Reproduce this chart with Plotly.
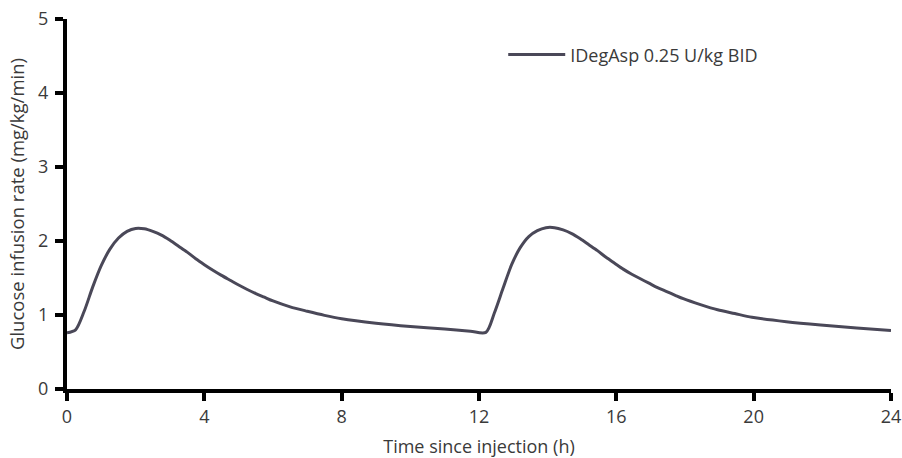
import plotly.graph_objects as go

time_h = [0.0, 0.25, 0.5, 0.75, 1.0, 1.25, 1.5, 1.75, 2.0, 2.25, 2.5, 2.75, 3.0, 3.25,
          3.5, 3.75, 4.0, 4.25, 4.5, 4.75, 5.0, 5.25, 5.5, 5.75, 6.0, 6.5, 7.0, 7.5, 8.0,
          9.0, 10.0, 11.0, 11.75, 12.2, 12.45, 12.7, 12.95, 13.2, 13.45, 13.7, 13.95, 14.2,
          14.45, 14.7, 14.95, 15.2, 15.45, 15.7, 15.95, 16.2, 16.45, 16.7, 16.95, 17.2,
          17.45, 17.7, 17.95, 18.45, 18.95, 19.45, 19.95, 20.95, 21.95, 23.0, 24.0]
gir = [0.76, 0.80, 1.05, 1.38, 1.67, 1.89, 2.04, 2.13, 2.17, 2.165, 2.13, 2.08, 2.01, 1.93,
       1.85, 1.76, 1.68, 1.605, 1.535, 1.47, 1.405, 1.345, 1.29, 1.24, 1.19, 1.11, 1.05, 0.995, 0.95,
       0.89, 0.845, 0.81, 0.78, 0.765, 1.03, 1.36, 1.68, 1.91, 2.06, 2.14, 2.18, 2.18,
       2.15, 2.10, 2.03, 1.95, 1.87, 1.78, 1.70, 1.62, 1.55, 1.49, 1.43, 1.37,
       1.32, 1.27, 1.22, 1.14, 1.07, 1.02, 0.97, 0.91, 0.865, 0.825, 0.79]
series_name = "IDegAsp 0.25 U/kg BID"
x_ticks = [0, 4, 8, 12, 16, 20, 24]
y_ticks = [0, 1, 2, 3, 4, 5]

fig = go.Figure()
fig.add_trace(go.Scatter(
    x=time_h, y=gir, mode="lines", name=series_name,
    line=dict(color="#4a4858", width=3, shape="spline", smoothing=0.8),
))

font_family = "Open Sans, Noto Sans, sans-serif"
txt = "#3a3a3a"
fig.update_layout(
    width=902, height=458,
    margin=dict(l=67, r=11, t=19, b=69),
    paper_bgcolor="white", plot_bgcolor="white",
    font=dict(family=font_family, size=18, color=txt),
    showlegend=True,
    legend=dict(x=0.5294, y=0.903, xanchor="left", yanchor="middle",
                bgcolor="rgba(0,0,0,0)", font=dict(size=18, color=txt),
                itemwidth=57),
    xaxis=dict(
        range=[0, 24], tickvals=x_ticks, ticktext=[str(v) for v in x_ticks],
        showline=True, linecolor="black", linewidth=4,
        ticks="outside", ticklen=8, tickwidth=4, tickcolor="black",
        showgrid=False, zeroline=False, automargin=False, ticklabeloverflow="allow",
        title=dict(text="Time since injection (h)", font=dict(size=18, color=txt), standoff=16),
        tickfont=dict(size=18, color=txt),
    ),
    yaxis=dict(
        range=[0, 5], tickvals=y_ticks, ticktext=[str(v) for v in y_ticks],
        showline=True, linecolor="black", linewidth=4,
        ticks="outside", ticklen=8, tickwidth=4, tickcolor="black",
        showgrid=False, zeroline=False, automargin=False, ticklabeloverflow="allow",
        ticklabelstandoff=3,
        title=dict(text="Glucose infusion rate (mg/kg/min)", font=dict(size=18.5, color=txt), standoff=10),
        tickfont=dict(size=18, color=txt),
    ),
)

fig.write_html("out.html", config={"displayModeBar": False},
               post_script="document.body.style.margin='0';")
